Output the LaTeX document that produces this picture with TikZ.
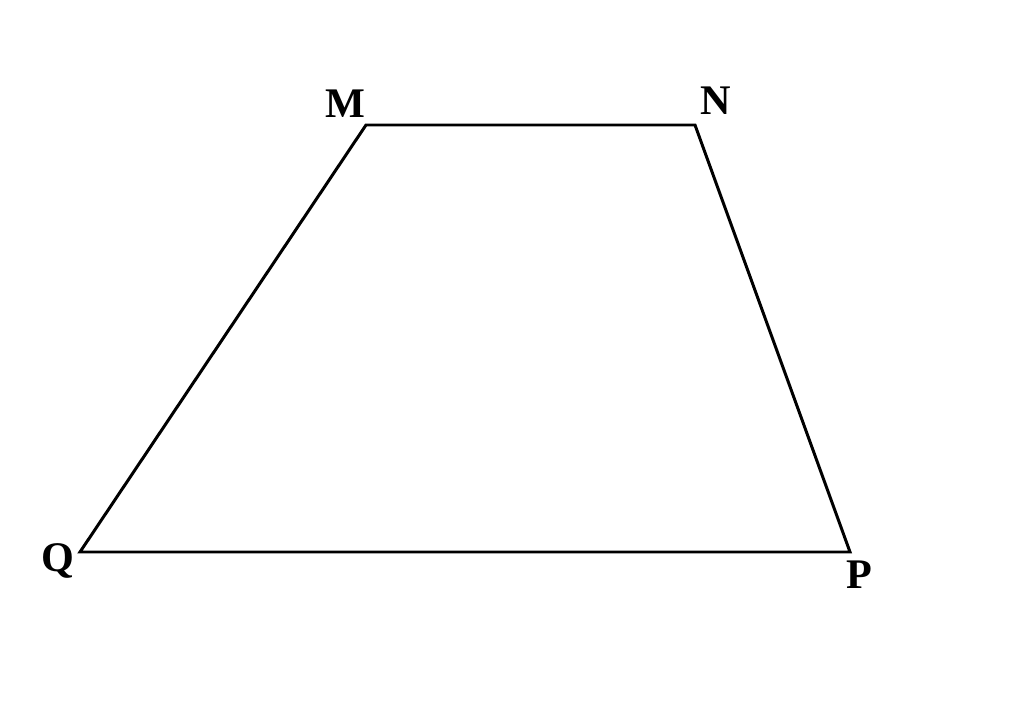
\documentclass[tikz,border=0pt]{standalone}
\usepackage{fontspec}
\setmainfont{Liberation Serif}
\usetikzlibrary{positioning}

\tikzset{vlabel/.style={font=\fontsize{24}{28}\selectfont\bfseries, inner sep=0pt}}

\begin{document}
\begin{tikzpicture}[x=0.02cm, y=-0.02cm, line width=1.7pt]
  \useasboundingbox (0,0) rectangle (1024,726);
  \coordinate (M) at (366,125);
  \coordinate (N) at (695,125);
  \coordinate (P) at (850,552);
  \coordinate (Q) at (80,552);
  \node (lM) [vlabel] at (345,104) {M};
  \node (lN) [vlabel] at (716,101) {N};
  \node (lP) [vlabel] at (859,575) {P};
  \node (lQ) [vlabel] at (58,561)  {Q};
  \draw (M) -- (N) -- (P) -- (Q) -- cycle;
\end{tikzpicture}
\end{document}
